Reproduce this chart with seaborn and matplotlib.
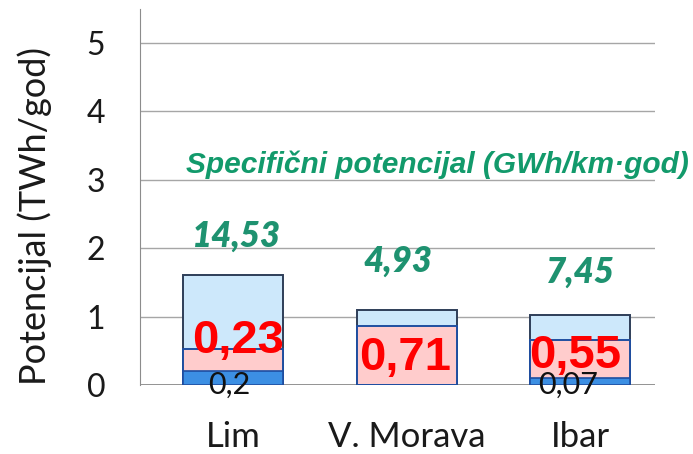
import numpy as np
import pandas as pd
import seaborn as sns
import matplotlib.pyplot as plt

rivers = ['Lim', 'V. Morava', 'Ibar']
total = [1.61, 1.10, 1.02]
pink = [0.53, 0.86, 0.66]
dark = [0.20, 0.0, 0.10]
spec_labels = ['14,53', '4,93', '7,45']
red_labels = ['0,23', '0,71', '0,55']
black_labels = ['0,2', '', '0,07']

df = pd.DataFrame({'reka': rivers, 'total': total, 'pink': pink, 'dark': dark})

sns.set_style('white')
plt.rcParams['font.family'] = ['Lato', 'DejaVu Sans']

fig = plt.figure(figsize=(6.93, 4.54), dpi=100)
ax = fig.add_axes([0.202, 0.152, 0.743, 0.829])

w = 0.576
sns.barplot(data=df, x='reka', y='total', color='#cde8fb', edgecolor='#2e3e58',
            linewidth=1.4, width=w, saturation=1, ax=ax, zorder=2)
sns.barplot(data=df, x='reka', y='pink', color='#ffcccc', edgecolor='#1f4ea0',
            linewidth=1.4, width=w, saturation=1, ax=ax, zorder=3)
sns.barplot(data=df, x='reka', y='dark', color='#3c8fe3', edgecolor='#1f4ea0',
            linewidth=1.2, width=w, saturation=1, ax=ax, zorder=4)

ax.set_xlim(-0.536, 2.43)
ax.set_ylim(0, 5.5)
ax.set_yticks([0, 1, 2, 3, 4, 5])
ax.yaxis.grid(True, color='#a6a6a6', linewidth=1)
ax.set_axisbelow(True)
ax.axhline(0, color='#8c8c8c', linewidth=1.3, zorder=1)
for s in ['top', 'right', 'bottom']:
    ax.spines[s].set_visible(False)
ax.spines['left'].set_color('#8c8c8c')
ax.tick_params(axis='y', length=11, color='#8c8c8c', width=1, pad=14,
               labelsize=23, labelcolor='#1a1a1a')
ax.tick_params(axis='x', length=0, pad=26, labelsize=25, labelcolor='#1a1a1a')
ax.set_xlabel('')
ax.set_ylabel('Potencijal (TWh/god)', fontsize=26, color='#1a1a1a')
ax.yaxis.set_label_coords(-0.17, 0.45)

# label placement (data coords)
spec_x = [0.02, -0.05, 0.0]
spec_y = [2.18, 1.81, 1.65]
red_x = [0.03, -0.01, -0.03]
red_y = [0.64, 0.39, 0.42]
black_x = [-0.02, 0, -0.07]

for i in range(len(rivers)):
    ax.text(i + spec_x[i], spec_y[i], spec_labels[i], color='#1e9270', fontsize=25,
            fontweight='heavy', style='italic', ha='center', va='center', zorder=6)
    ax.text(i + red_x[i], red_y[i], red_labels[i], color='#ff0000', fontsize=34,
            fontweight='bold', family='Liberation Sans', ha='center', va='center', zorder=6)
    if black_labels[i]:
        ax.text(i + black_x[i], 0.0, black_labels[i], color='#111111', fontsize=22,
                ha='center', va='center', zorder=5)

ax.text(1.18, 3.22, 'Specifični potencijal (GWh/km·god)', color='#129a6b', fontsize=21.5,
        fontweight='bold', style='italic', family='Liberation Sans',
        ha='center', va='center', zorder=6, clip_on=False)

plt.savefig('out.png', dpi=100)
